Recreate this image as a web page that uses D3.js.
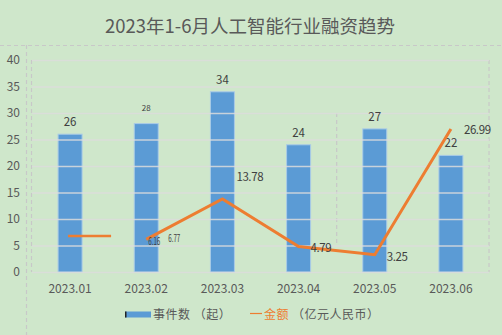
<!DOCTYPE html>
<html><head><meta charset="utf-8">
<script src="https://cdn.jsdelivr.net/npm/d3@7/dist/d3.min.js"></script>
<style>
html,body{margin:0;padding:0;background:#cfe7cb;}
svg{display:block;font-family:"Noto Sans CJK SC","Noto Sans",sans-serif;}
</style></head>
<body>
<svg id="c" width="502" height="335"></svg>
<script>
const title = "2023年1-6月人工智能行业融资趋势";
const months = ["2023.01","2023.02","2023.03","2023.04","2023.05","2023.06"];
const counts = [26, 28, 34, 24, 27, 22];
const amounts = [6.77, 6.16, 13.78, 4.79, 3.25, 26.99];
const yTicks = [0, 5, 10, 15, 20, 25, 30, 35, 40];
const legendBar = "事件数 （起）";
const legendLine = "金额";
const legendLineUnit = "（亿元人民币）";

const svg = d3.select("#c");
const W = 502, H = 335;
const pLeft = 32, pRight = 489, pTop = 60, pBottom = 272;

svg.append("rect").attr("width", W).attr("height", H).attr("fill", "#cfe7cb");

// outer frame dashes
svg.append("line").attr("x1", 0).attr("x2", W).attr("y1", 45.5).attr("y2", 45.5)
  .attr("stroke", "#c8c8c8").attr("stroke-width", 1.2).attr("stroke-dasharray", "4,3");
svg.append("line").attr("x1", 26.5).attr("x2", 26.5).attr("y1", 45).attr("y2", H)
  .attr("stroke", "#c8c8c8").attr("stroke-width", 1.2).attr("stroke-dasharray", "4,3");

svg.append("text").attr("x", 250).attr("y", 33).attr("text-anchor", "middle")
  .attr("font-size", 18.5).attr("fill", "#595959").text(title);

const x = d3.scaleBand().domain(months).range([pLeft, pRight]).paddingInner(0.685).paddingOuter(0.3425);
const y = d3.scaleLinear().domain([0, 40]).range([pBottom, pTop]);

// plot area dashed borders
svg.append("line").attr("x1", pLeft - 0.5).attr("x2", pLeft - 0.5).attr("y1", pTop).attr("y2", pBottom)
  .attr("stroke", "#c8c8c8").attr("stroke-width", 1.2).attr("stroke-dasharray", "4,3");
svg.append("line").attr("x1", pRight).attr("x2", pRight).attr("y1", pTop).attr("y2", pBottom)
  .attr("stroke", "#c8c8c8").attr("stroke-width", 1.2).attr("stroke-dasharray", "4,3");
const midX = (x(months[3]) + x(months[4]) + x.bandwidth()) / 2;
svg.append("line").attr("x1", midX).attr("x2", midX).attr("y1", y(30)).attr("y2", y(5.2))
  .attr("stroke", "#c8c8c8").attr("stroke-width", 1.2).attr("stroke-dasharray", "4,3");

// bars
svg.append("g").selectAll("rect").data(counts).join("rect")
  .attr("x", (d, i) => x(months[i]))
  .attr("y", d => y(d))
  .attr("width", x.bandwidth())
  .attr("height", d => y(0) - y(d))
  .attr("fill", "#5b9bd5")
  .attr("stroke", "#a9cbe6").attr("stroke-width", 1);

// grid
const yAxis = d3.axisLeft(y).tickValues(yTicks).tickSize(-(pRight - pLeft)).tickPadding(12);
const gy = svg.append("g").attr("transform", `translate(${pLeft},0)`).call(yAxis);
gy.select(".domain").remove();
gy.selectAll(".tick line").attr("stroke", "#dcdcdc").attr("stroke-width", 1.5).attr("opacity", 0.85);
gy.selectAll(".tick text").attr("font-size", 12).attr("fill", "#595959")
  .attr("font-family", "'Noto Sans CJK SC', sans-serif");

// x axis labels
const xAxis = d3.axisBottom(x).tickSize(0).tickPadding(12);
const gx = svg.append("g").attr("transform", `translate(0,${pBottom})`).call(xAxis);
gx.select(".domain").remove();
gx.selectAll(".tick text").attr("font-size", 12).attr("fill", "#595959")
  .attr("font-family", "'Noto Sans CJK SC', sans-serif");

// bar labels
svg.append("g").selectAll("text").data(counts).join("text")
  .attr("x", (d, i) => x(months[i]) + x.bandwidth() / 2)
  .attr("y", (d, i) => y(d) - (i === 1 ? 13 : 8))
  .attr("text-anchor", "middle")
  .attr("font-size", (d, i) => i === 1 ? 8 : 11.5)
  .attr("fill", "#404040")
  .text(d => d);

// line
const cx = i => x(months[i]) + x.bandwidth() / 2;
const orange = "#ed7d31";
svg.append("line").attr("x1", cx(0) - 2).attr("x2", cx(0) + 41)
  .attr("y1", y(amounts[0])).attr("y2", y(amounts[0]))
  .attr("stroke", orange).attr("stroke-width", 2.5);
const lineGen = d3.line().x(d => cx(d.i)).y(d => y(d.v));
svg.append("path").datum(amounts.map((v, i) => ({v, i})).slice(1))
  .attr("d", lineGen).attr("fill", "none").attr("stroke", orange)
  .attr("stroke-width", 3).attr("stroke-linejoin", "miter");

// line labels
const lbl = [
  {i: 2, dx: 14, dy: -18, size: 11.5},
  {i: 3, dx: 12, dy: 5, size: 11.5},
  {i: 4, dx: 12, dy: 6, size: 11.5},
  {i: 5, dx: 13, dy: 5, size: 11.5}
];
svg.append("g").selectAll("text").data(lbl).join("text")
  .attr("x", d => cx(d.i) + d.dx).attr("y", d => y(amounts[d.i]) + d.dy)
  .attr("font-size", d => d.size).attr("fill", "#404040")
  .attr("letter-spacing", -0.4)
  .text(d => amounts[d.i].toFixed(2));
// small condensed labels near Feb
[{i: 1, dx: 2, dy: 6}, {i: 0, dx: 22, dy: 3, at: 1}].forEach(d => {
  const px = cx(d.at !== undefined ? d.at : d.i) + d.dx;
  const py = y(amounts[1]) + d.dy;
  svg.append("text").attr("transform", `translate(${px},${py}) scale(0.62,1)`)
    .attr("font-size", 10).attr("fill", "#404040").text(amounts[d.i].toFixed(2));
});

// legend
const ly = 315;
svg.append("rect").attr("x", 125).attr("y", ly - 3.5).attr("width", 26).attr("height", 6).attr("fill", "#5b9bd5");
svg.append("rect").attr("x", 125).attr("y", ly - 3.5).attr("width", 1.5).attr("height", 6).attr("fill", "#222");
svg.append("text").attr("x", 153).attr("y", ly + 4).attr("font-size", 12).attr("fill", "#595959")
  .attr("letter-spacing", 0.5).text(legendBar);
svg.append("line").attr("x1", 250).attr("x2", 262).attr("y1", ly - 1.5).attr("y2", ly - 1.5)
  .attr("stroke", orange).attr("stroke-width", 1.2);
svg.append("text").attr("x", 264).attr("y", ly + 4).attr("font-size", 12).attr("fill", orange)
  .attr("letter-spacing", 0.5).text(legendLine);
svg.append("text").attr("x", 292).attr("y", ly + 4).attr("font-size", 12).attr("fill", "#595959")
  .attr("letter-spacing", 0.5).text(legendLineUnit);
</script>
</body></html>
